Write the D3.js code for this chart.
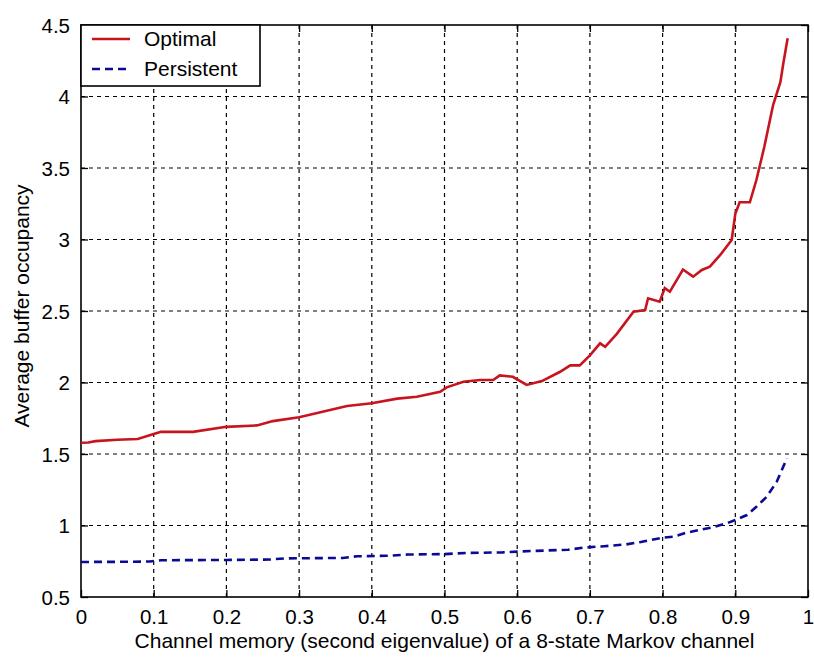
<!DOCTYPE html>
<html>
<head>
<meta charset="UTF-8">
<title>Buffer occupancy</title>
<script src="https://cdn.jsdelivr.net/npm/d3@7"></script>
<style>
  body { margin: 0; background: #fff; }
  svg text { font-family: "Liberation Sans", Arial, sans-serif; fill: #000; }
</style>
</head>
<body>
<div id="grafica"></div>
<script>
// values
var optX = [0, 0.01, 0.02, 0.05, 0.078, 0.1, 0.11, 0.154, 0.2, 0.242, 0.264, 0.3, 0.366, 0.4, 0.435,
            0.462, 0.494, 0.503, 0.526, 0.549, 0.567, 0.576, 0.594, 0.613, 0.634, 0.659, 0.673, 0.686,
            0.7, 0.714, 0.721, 0.737, 0.76, 0.776, 0.78, 0.796, 0.803, 0.81, 0.828, 0.842, 0.854,
            0.865, 0.879, 0.895, 0.9, 0.906, 0.92, 0.929, 0.94, 0.952, 0.962, 0.966, 0.972]
var optY = [1.579, 1.58, 1.59, 1.6, 1.605, 1.64, 1.655, 1.655, 1.69, 1.7, 1.73, 1.757, 1.836, 1.855, 1.887,
            1.9, 1.935, 1.966, 2.005, 2.017, 2.017, 2.05, 2.04, 1.983, 2.01, 2.075, 2.12, 2.12,
            2.19, 2.274, 2.25, 2.34, 2.495, 2.507, 2.589, 2.565, 2.66, 2.635, 2.79, 2.74, 2.787,
            2.81, 2.89, 2.997, 3.18, 3.26, 3.26, 3.416, 3.65, 3.94, 4.1, 4.23, 4.407]

var persX = [0, 0.05, 0.095, 0.11, 0.2, 0.26, 0.28, 0.36, 0.38, 0.42, 0.45, 0.5, 0.53, 0.58, 0.62,
             0.67, 0.69, 0.72, 0.75, 0.77, 0.8, 0.815, 0.833, 0.851, 0.869, 0.888, 0.9, 0.916,
             0.929, 0.943, 0.957, 0.964, 0.971]
var persY = [0.745, 0.746, 0.748, 0.757, 0.759, 0.762, 0.77, 0.773, 0.785, 0.788, 0.797, 0.8, 0.808, 0.812, 0.822,
             0.83, 0.845, 0.855, 0.868, 0.885, 0.915, 0.922, 0.95, 0.969, 0.987, 1.015, 1.038, 1.073,
             1.131, 1.2, 1.306, 1.388, 1.47]

var xTicks = [0, 0.1, 0.2, 0.3, 0.4, 0.5, 0.6, 0.7, 0.8, 0.9, 1]
var yTicks = [0.5, 1, 1.5, 2, 2.5, 3, 3.5, 4, 4.5]

var seriesNames = ['Optimal', 'Persistent']
var seriesColors = ['#c8141e', '#0a0a96']

var ancho = 814, alto = 662
var m = { left: 81, top: 25, right: 6, bottom: 65 }
var w = ancho - m.left - m.right
var h = alto - m.top - m.bottom

var svg = d3.select('#grafica').append('svg')
  .attr('width', ancho).attr('height', alto)

var g = svg.append('g').attr('transform', 'translate(' + m.left + ',' + m.top + ')')

var x = d3.scaleLinear().domain([0, 1]).range([0, w])
var y = d3.scaleLinear().domain([0.5, 4.5]).range([h, 0])

// dashed grid
g.append('g').selectAll('line').data(xTicks.slice(1, -1)).enter().append('line')
  .attr('x1', d => x(d)).attr('x2', d => x(d)).attr('y1', 0).attr('y2', h)
  .attr('stroke', '#000').attr('stroke-width', 1.2).attr('stroke-dasharray', '4,4')
g.append('g').selectAll('line').data(yTicks.slice(1, -1)).enter().append('line')
  .attr('y1', d => y(d)).attr('y2', d => y(d)).attr('x1', 0).attr('x2', w)
  .attr('stroke', '#000').attr('stroke-width', 1.2).attr('stroke-dasharray', '4,4')

// axes, ticks inside like matlab
var xAxis = g.append('g').attr('transform', 'translate(0,' + h + ')')
  .call(d3.axisBottom(x).tickValues(xTicks).tickSizeInner(-7).tickSizeOuter(0).tickPadding(12)
    .tickFormat(d3.format('')))
var yAxis = g.append('g')
  .call(d3.axisLeft(y).tickValues(yTicks).tickSizeInner(-7).tickSizeOuter(0).tickPadding(11)
    .tickFormat(d3.format('')))
g.append('g')
  .call(d3.axisTop(x).tickValues(xTicks).tickSizeInner(-7).tickSizeOuter(0).tickFormat(''))
g.append('g').attr('transform', 'translate(' + w + ',0)')
  .call(d3.axisRight(y).tickValues(yTicks).tickSizeInner(-7).tickSizeOuter(0).tickFormat(''))

svg.selectAll('.domain').remove()
svg.selectAll('.tick line').attr('stroke', '#000').attr('stroke-width', 1.3)
xAxis.selectAll('text').style('font-size', '20.5px')
yAxis.selectAll('text').style('font-size', '20.5px').attr('dy', '0.35em')

g.append('rect').attr('width', w).attr('height', h)
  .attr('fill', 'none').attr('stroke', '#000').attr('stroke-width', 1.6)

// lines
var line = d3.line().x(d => x(d[0])).y(d => y(d[1]))
var optData = optX.map((v, i) => [v, optY[i]])
var persData = persX.map((v, i) => [v, persY[i]])

g.append('path').datum(optData).attr('d', line)
  .attr('fill', 'none').attr('stroke', seriesColors[0]).attr('stroke-width', 2.6)
g.append('path').datum(persData).attr('d', line)
  .attr('fill', 'none').attr('stroke', seriesColors[1]).attr('stroke-width', 2.6)
  .attr('stroke-dasharray', '8,5')

// labels
svg.append('text').attr('x', m.left + w / 2).attr('y', 648)
  .attr('text-anchor', 'middle').style('font-size', '21px')
  .text('Channel memory (second eigenvalue) of a 8-state Markov channel')
svg.append('text').attr('transform', 'translate(29,' + (m.top + h / 2 - 5) + ') rotate(-90)')
  .attr('text-anchor', 'middle').style('font-size', '21px')
  .text('Average buffer occupancy')

// legend
var leg = g.append('g')
leg.append('rect').attr('x', 0).attr('y', 0).attr('width', 179).attr('height', 61)
  .attr('fill', '#fff').attr('stroke', '#000').attr('stroke-width', 1.6)
seriesNames.forEach(function(name, i) {
  var ly = 14 + i * 30
  leg.append('line').attr('x1', 11).attr('x2', 49).attr('y1', ly).attr('y2', ly)
    .attr('stroke', seriesColors[i]).attr('stroke-width', 2.6)
    .attr('stroke-dasharray', i == 1 ? '8,5' : null)
  leg.append('text').attr('x', 63).attr('y', ly).attr('dy', '0.35em')
    .style('font-size', '21px').text(name)
})
</script>
</body>
</html>
